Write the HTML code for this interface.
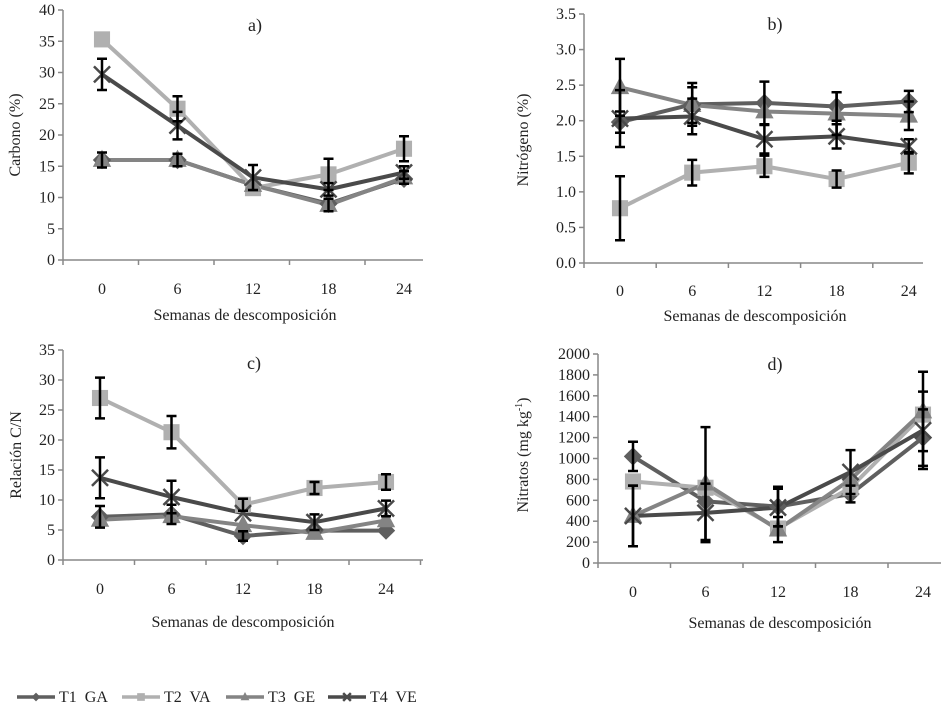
<!DOCTYPE html>
<html><head><meta charset="utf-8"><style>
html,body{margin:0;padding:0;background:#fff;}
svg{display:block;}
svg text{font-family:"Liberation Serif","Times New Roman",serif;}
</style></head><body>
<svg id="fig" width="945" height="709" viewBox="0 0 945 709" xmlns="http://www.w3.org/2000/svg"></svg>
<script>
const categories = ["0","6","12","18","24"];
const seriesNames = ["T1  GA","T2  VA","T3  GE","T4  VE"];
// a) Carbono
const carbonT1 = [16, 16, 12, 9, 13];
const carbonT2 = [35.3, 24.2, 11.5, 13.7, 17.8];
const carbonT3 = [16, 16, 12, 8.8, 13.2];
const carbonT4 = [29.7, 21.5, 13.2, 11.3, 14];
const carbonErrT2 = [0, 2, 0, 2.5, 2];
const carbonErrT3 = [1.2, 1, 0, 1, 1];
const carbonErrT4 = [2.5, 2.2, 2, 1, 1];
const carbonTicks = [0,5,10,15,20,25,30,35,40];
// b) Nitrogeno
const nitroT1 = [1.98, 2.23, 2.25, 2.2, 2.27];
const nitroT2 = [0.77, 1.27, 1.36, 1.18, 1.41];
const nitroT3 = [2.47, 2.22, 2.13, 2.1, 2.07];
const nitroT4 = [2.03, 2.06, 1.74, 1.78, 1.64];
const nitroErrT1 = [0.15, 0.3, 0.3, 0.2, 0.15];
const nitroErrT2 = [0.45, 0.18, 0.15, 0.12, 0.15];
const nitroErrT3 = [0.4, 0.25, 0, 0.3, 0.2];
const nitroErrT4 = [0.4, 0.25, 0.2, 0.17, 0.1];
const nitroTicks = ["0.0","0.5","1.0","1.5","2.0","2.5","3.0","3.5"];
// c) Relacion C/N
const cnT1 = [7.2, 7.6, 4, 4.9, 4.9];
const cnT2 = [27, 21.3, 9.2, 12, 13];
const cnT3 = [6.7, 7.3, 5.8, 4.5, 6.6];
const cnT4 = [13.7, 10.5, 7.8, 6.3, 8.6];
const cnErrT1 = [1.8, 1.6, 0.8, 0, 0];
const cnErrT2 = [3.4, 2.7, 1, 1, 1.3];
const cnErrT4 = [3.4, 2.7, 0, 1.3, 1.3];
const cnTicks = [0,5,10,15,20,25,30,35];
// d) Nitratos
const no3T1 = [1020, 590, 540, 660, 1200];
const no3T2 = [780, 720, 330, 720, 1420];
const no3T3 = [450, 760, 320, 800, 1450];
const no3T4 = [450, 480, 530, 870, 1270];
const no3ErrT1 = [140, 0, 190, 80, 270];
const no3ErrT3 = [290, 540, 120, 0, 380];
const no3ErrT4 = [290, 280, 180, 210, 370];
const no3Ticks = [0,200,400,600,800,1000,1200,1400,1600,1800,2000];

const colors = ["#5f5f5f","#b0b0b0","#848484","#4a4a4a"];
const markers = ["diamond","square","triangle","x"];
const NS = "http://www.w3.org/2000/svg";
const svg = document.getElementById("fig");
function mk(tag, attrs, parent){const e=document.createElementNS(NS,tag);for(const k in attrs)e.setAttribute(k,attrs[k]);(parent||svg).appendChild(e);return e;}

function drawPanel(p){
  const g = mk("g",{});
  
  
  const ymin=0, ymax=p.ymax;
  const yS = v => p.y0 - (v-ymin)/(ymax-ymin)*(p.y0-p.yTop);
  const xS = i => p.x0pt + i*p.step;
  const ya = mk("line",{x1:p.ax,y1:p.yTop,x2:p.ax,y2:p.y0,stroke:"#888","stroke-width":1.5},g);
   
  const xa = mk("line",{x1:p.ax,y1:p.y0,x2:p.axRight,y2:p.y0,stroke:"#888","stroke-width":1.5},g);
   
  p.ticks.forEach(t=>{
    const v=parseFloat(t), y=yS(v);
    mk("line",{x1:p.ax-5,y1:y,x2:p.ax,y2:y,stroke:"#888","stroke-width":1.5},g);
    const tx=mk("text",{x:p.ax-8,y:y+5,"text-anchor":"end","font-size":16,fill:"#222"},g);
    tx.textContent=t;
     
  });
  for(let i=0;i<=categories.length;i++){
    const x=p.ax+i*p.step;
    if(x<=p.axRight+1) mk("line",{x1:x,y1:p.y0,x2:x,y2:p.y0+5,stroke:"#888","stroke-width":1.5},g);
  }
  categories.forEach((c,i)=>{
    const tx=mk("text",{x:xS(i),y:p.tickY,"text-anchor":"middle","font-size":16,fill:"#222"},g);
    tx.textContent=c;
     
  });
  const xt=mk("text",{x:p.xtX,y:p.xtY,"text-anchor":"middle","font-size":16,fill:"#222"},g);
  xt.textContent="Semanas de descomposición";
   
  const yt=mk("text",{x:0,y:0,"text-anchor":"middle","font-size":16,fill:"#222",transform:`translate(${p.ytX},${p.ytY}) rotate(-90)`},g);
  yt.innerHTML=p.ytitle;
   
  const pt=mk("text",{x:p.ptX,y:p.ptY,"text-anchor":"middle","font-size":18,fill:"#222"},g);
  pt.textContent=p.label;
   
  p.series.forEach((s,si)=>{
    const sg=mk("g",{},g);
    
    
    const d=s.map((v,i)=>(i?"L":"M")+xS(i)+","+yS(v)).join(" ");
    mk("path",{d:d,fill:"none",stroke:colors[si],"stroke-width":4,"stroke-linejoin":"round"},sg);
  });
  p.series.forEach((s,si)=>{
    s.forEach((v,i)=>{
      const m=drawMarker(markers[si],xS(i),yS(v),colors[si],g,1.15);
      
      
    });
  });
  p.errs.forEach((e)=>{
    const s=p.series[e.s];
    e.v.forEach((ev,i)=>{
      if(!ev) return;
      const x=xS(i), y1=yS(s[i]+ev), y2=yS(s[i]-ev);
      const eb=mk("path",{d:`M${x},${y1}L${x},${y2}M${x-5},${y1}L${x+5},${y1}M${x-5},${y2}L${x+5},${y2}`,stroke:"#000","stroke-width":2.5,fill:"none"},g);
      
      
    });
  });
}
function drawMarker(type,x,y,c,parent,sz){
  sz=sz||1;
  if(type==="square") return mk("rect",{x:x-7*sz,y:y-7*sz,width:14*sz,height:14*sz,fill:c},parent);
  if(type==="diamond") return mk("path",{d:`M${x},${y-8*sz}L${x+8*sz},${y}L${x},${y+8*sz}L${x-8*sz},${y}Z`,fill:c},parent);
  if(type==="triangle") return mk("path",{d:`M${x},${y-9*sz}L${x+8*sz},${y+6*sz}L${x-8*sz},${y+6*sz}Z`,fill:c},parent);
  return mk("path",{d:`M${x-7*sz},${y-7*sz}L${x+7*sz},${y+7*sz}M${x+7*sz},${y-7*sz}L${x-7*sz},${y+7*sz}`,stroke:c,"stroke-width":2.5},parent);
}

drawPanel({name:"chart-carbono",label:"a)",ymax:40,ticks:carbonTicks.map(String),ax:63,axRight:423,yTop:10,y0:260,x0pt:102,step:75.5,
  tickY:294,xtX:245,xtY:320,ytX:20,ytY:135,ytitle:"Carbono (%)",ptX:255,ptY:31,
  series:[carbonT1,carbonT2,carbonT3,carbonT4],errs:[{s:1,v:carbonErrT2},{s:2,v:carbonErrT3},{s:3,v:carbonErrT4}]});
drawPanel({name:"chart-nitrogeno",label:"b)",ymax:3.5,ticks:nitroTicks,ax:584,axRight:923,yTop:14,y0:263,x0pt:620,step:72.2,
  tickY:296,xtX:755,xtY:321,ytX:528,ytY:140,ytitle:"Nitrógeno (%)",ptX:775,ptY:30,
  series:[nitroT1,nitroT2,nitroT3,nitroT4],errs:[{s:0,v:nitroErrT1},{s:1,v:nitroErrT2},{s:2,v:nitroErrT3},{s:3,v:nitroErrT4}]});
drawPanel({name:"chart-relacion-cn",label:"c)",ymax:35,ticks:cnTicks.map(String),ax:63,axRight:423,yTop:350,y0:560,x0pt:100,step:71.5,
  tickY:594,xtX:243,xtY:627,ytX:21,ytY:455,ytitle:"Relación C/N",ptX:254,ptY:369,
  series:[cnT1,cnT2,cnT3,cnT4],errs:[{s:0,v:cnErrT1},{s:1,v:cnErrT2},{s:3,v:cnErrT4}]});
drawPanel({name:"chart-nitratos",label:"d)",ymax:2000,ticks:no3Ticks.map(String),ax:598,axRight:941,yTop:354,y0:563,x0pt:633,step:72.5,
  tickY:597,xtX:780,xtY:628,ytX:528,ytY:455,ytitle:"Nitratos (mg kg<tspan dy='-6' font-size='10'>-1</tspan><tspan dy='6'>)</tspan>",ptX:775,ptY:370,
  series:[no3T1,no3T2,no3T3,no3T4],errs:[{s:0,v:no3ErrT1},{s:2,v:no3ErrT3},{s:3,v:no3ErrT4}]});

const lg=mk("g",{});


const legX=[17,122,226,328];
seriesNames.forEach((n,i)=>{
  const eg=mk("g",{},lg);
  
  
  mk("line",{x1:legX[i],y1:697,x2:legX[i]+38,y2:697,stroke:colors[i],"stroke-width":3.5},eg);
  drawMarker(markers[i],legX[i]+19,697,colors[i],eg,0.55);
  const t=mk("text",{x:legX[i]+42,y:702,"font-size":16,fill:"#222"},eg);
  t.setAttribute("style","white-space:pre");
  t.textContent=n;
});
</script>
</body></html>
